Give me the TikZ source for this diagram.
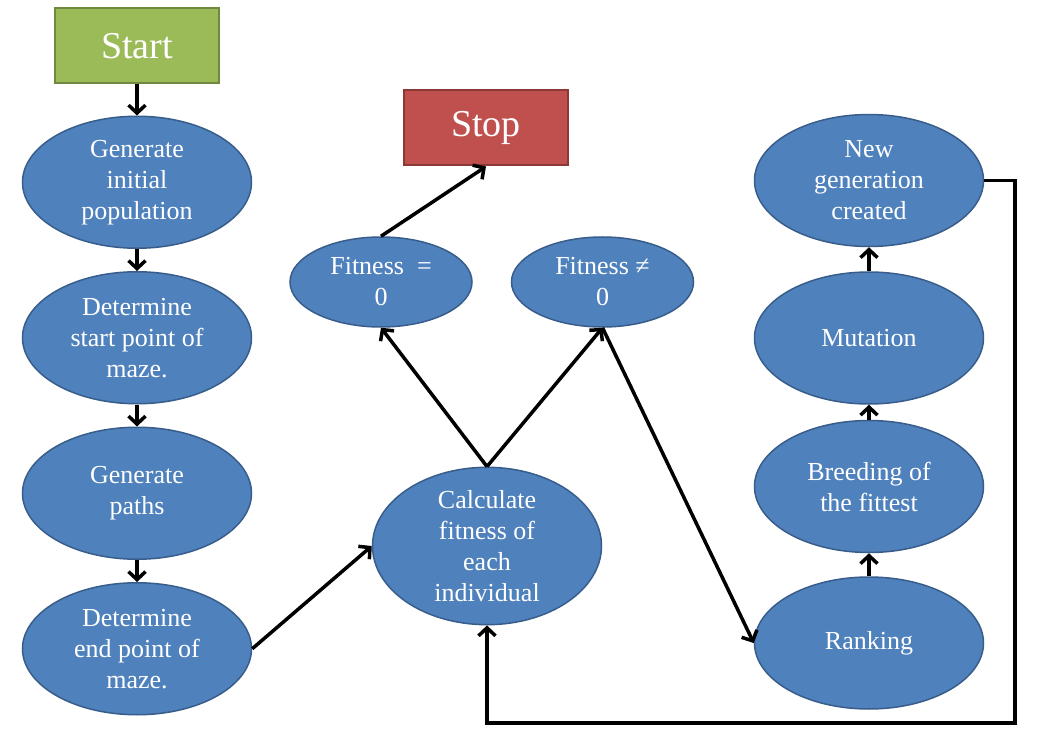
\documentclass[tikz,border=0pt]{standalone}
\usepackage{fontspec}
\setmainfont{Liberation Serif}
\usetikzlibrary{arrows.meta,positioning,shapes.geometric}
\definecolor{stepblue}{HTML}{4F81BD}
\definecolor{stepedge}{HTML}{385D8A}
\definecolor{startgreen}{HTML}{9BBB59}
\definecolor{startedge}{HTML}{71893F}
\definecolor{stopred}{HTML}{C0504D}
\definecolor{stopedge}{HTML}{8C3836}

\begin{document}
\begin{tikzpicture}[
  x=1pt, y=-1pt,
  node distance=22pt,
  stage/.style={ellipse, draw=stepedge, line width=1.5pt, fill=stepblue, text=white, align=center,
    inner sep=0pt, minimum width=229pt, minimum height=132pt, font=\fontsize{26}{31}\selectfont},
  check/.style={stage, minimum width=182pt, minimum height=90pt},
  term/.style={draw, line width=2pt, text=white, minimum width=164pt, minimum height=75pt,
    inner sep=0pt, font=\fontsize{38}{44}\selectfont},
  arrow/.style={-{Straight Barb[length=8pt,width=17pt]}, line width=3.5pt}
]
\useasboundingbox (0,0) rectangle (1037,746);
% left column
\node[term, fill=startgreen, draw=startedge] (start) at (137,46) {Start};
\node[stage, below=31pt of start] (init) {Generate\\initial\\population};
\node[stage, below=of init] (startpt) {Determine\\start point of\\maze.};
\node[stage, below=of startpt] (paths) {Generate\\paths};
\node[stage, below=of paths] (endpt) {Determine\\end point of\\maze.};
% middle
\node[stage] (calc) at (487,546) {Calculate\\fitness of\\each\\individual};
\node[check] (fitzero) at (381,282) {Fitness~~=\\0};
\node[check, right=38pt of fitzero] (fitnonzero) {Fitness ≠\\0};
\node[term, fill=stopred, draw=stopedge] (stop) at (486,128) {Stop};
% right column
\node[stage] (rank) at (869,643) {Ranking};
\node[stage, above=23pt of rank] (breed) {Breeding of\\the fittest};
\node[stage, above=15pt of breed] (mutate) {Mutation};
\node[stage, above=24pt of mutate] (newgen) {New\\generation\\created};
\coordinate (loopcorner) at (1015,723);

\draw[arrow] (start) -- (init);
\draw[arrow] (init) -- (startpt);
\draw[arrow] (startpt) -- (paths);
\draw[arrow] (paths) -- (endpt);
\draw[arrow] (endpt.east) -- (calc.west);
\draw[arrow] (calc.north) -- (fitzero.south);
\draw[arrow] (calc.north) -- (fitnonzero.south);
\draw[arrow] (fitzero.north) -- (stop.south);
\draw[arrow] (fitnonzero.south) -- (rank.west);
\draw[arrow] (rank) -- (breed);
\draw[arrow] (breed) -- (mutate);
\draw[arrow] (mutate) -- (newgen);
\draw[arrow] (newgen.east) -| (loopcorner) -| (calc.south);
\end{tikzpicture}
\end{document}
